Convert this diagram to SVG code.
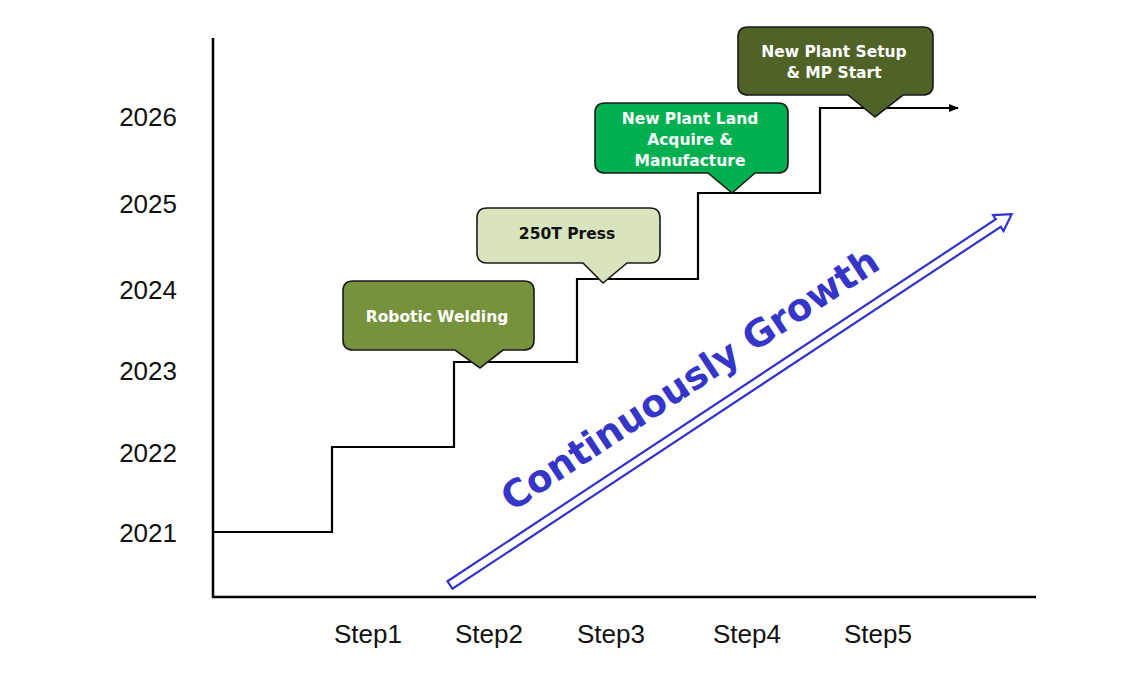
<svg xmlns="http://www.w3.org/2000/svg" width="1134" height="684" viewBox="0 0 1134 684">
<style>
.axis{fill:none;stroke:#000;stroke-width:2.5}
.step{fill:none;stroke:#000;stroke-width:2.2}
.yr{font-family:"Liberation Sans",Arial,sans-serif;font-size:26px;fill:#111;text-anchor:end}
.st{font-family:"Liberation Sans",Arial,sans-serif;font-size:26px;fill:#111;text-anchor:middle}
.co{stroke:#1a1a1a;stroke-width:1.6}
.ct{font-family:"DejaVu Sans",Verdana,sans-serif;font-weight:bold;font-size:15.5px;text-anchor:middle}
.w{fill:#fff}
.b{fill:#111}
</style>
<defs>
<marker id="ah" markerWidth="10" markerHeight="8" refX="9" refY="4" orient="auto" markerUnits="userSpaceOnUse">
<path d="M0,0 L10,4 L0,8 Z" fill="#000"/>
</marker>
</defs>
<rect width="1134" height="684" fill="#fff"/>
<g id="axes">
<path class="axis" d="M213,38 V597 H1036"/>
</g>
<g id="years">
<text class="yr" x="177" y="126">2026</text>
<text class="yr" x="177" y="213">2025</text>
<text class="yr" x="177" y="299">2024</text>
<text class="yr" x="177" y="380">2023</text>
<text class="yr" x="177" y="462">2022</text>
<text class="yr" x="177" y="542">2021</text>
</g>
<g id="steps">
<text class="st" x="368" y="643">Step1</text>
<text class="st" x="489" y="643">Step2</text>
<text class="st" x="611" y="643">Step3</text>
<text class="st" x="747" y="643">Step4</text>
<text class="st" x="878" y="643">Step5</text>
</g>
<g id="connectors">
<path class="step" marker-end="url(#ah)" d="M213,532 H332 V447 H454 V362 H577 V279 H698 V193 H820 V108 H958"/>
</g>
<g id="growth">
<polygon transform="translate(450,585) rotate(-33.43)" points="0,-4.5 657,-4.5 657,-9.5 673,0 657,9.5 657,4.5 0,4.5" fill="#fff" stroke="#3333CC" stroke-width="2.2" stroke-linejoin="miter"/>
<text x="697" y="390" transform="rotate(-33.43 697 390)" font-family="'DejaVu Sans',Verdana,sans-serif" font-weight="bold" font-size="37.5" fill="#3535C8" text-anchor="middle">Continuously Growth</text>
</g>
<g id="callout-robotic">
<path class="co" fill="#76923C" d="M353,281 H524 Q534,281 534,291 V340 Q534,350 524,350 H503 L480,368 L455,350 H353 Q343,350 343,340 V291 Q343,281 353,281 Z"/>
<text class="ct w" x="437" y="322">Robotic Welding</text>
</g>
<g id="callout-press">
<path class="co" fill="#D7E4BD" d="M487,208 H650 Q660,208 660,218 V253 Q660,263 650,263 H627 L603,283 L583,263 H487 Q477,263 477,253 V218 Q477,208 487,208 Z"/>
<text class="ct b" x="567" y="239" font-size="16">250T Press</text>
</g>
<g id="callout-land">
<path class="co" fill="#00B050" d="M605,103 H778 Q788,103 788,113 V163 Q788,173 778,173 H755 L732,193 L708,173 H605 Q595,173 595,163 V113 Q595,103 605,103 Z"/>
<text class="ct w" x="690" y="124">New Plant Land</text>
<text class="ct w" x="690" y="145">Acquire &amp;</text>
<text class="ct w" x="690" y="166">Manufacture</text>
</g>
<g id="callout-setup">
<path class="co" fill="#4F6228" d="M748,27 H923 Q933,27 933,37 V85 Q933,95 923,95 H903 L875,117 L848,95 H748 Q738,95 738,85 V37 Q738,27 748,27 Z"/>
<text class="ct w" x="834" y="57">New Plant Setup</text>
<text class="ct w" x="834" y="78">&amp; MP Start</text>
</g>
</svg>
